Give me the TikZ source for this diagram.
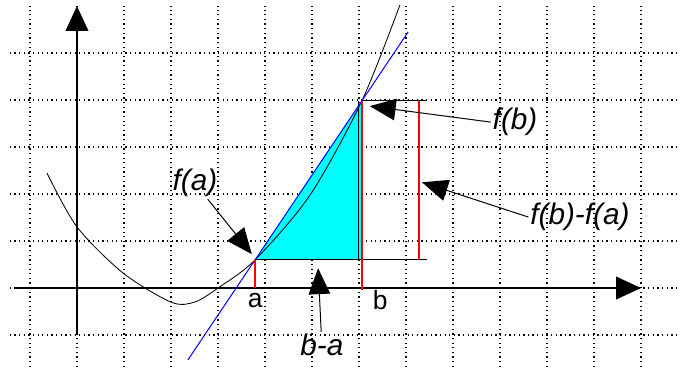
\documentclass[tikz,border=0pt]{standalone}
\usepackage{fontspec}
\setmainfont{Liberation Sans}
\usetikzlibrary{arrows.meta,calc}

\definecolor{aqua}{RGB}{0,255,255}
\tikzset{
    gridline/.style={dotted, line width=0.8pt},
    axisline/.style={line width=1.2pt, -{Triangle[length=5.3mm,width=4.8mm]}},
    callout/.style={line width=0.6pt, -{Triangle[length=5.5mm,width=4.6mm]}},
    lbl/.style={font=\fontsize{18}{20}\selectfont\itshape, inner sep=1pt},
    ticklbl/.style={font=\fontsize{16}{18}\selectfont, inner sep=1pt},
}

\begin{document}
\begin{tikzpicture}
    \useasboundingbox (-1.638,-1.681) rectangle (13.0,6.128);
    % Grid
    \foreach \x in {-1,...,12}
        \draw[gridline] (\x,-1.68) -- (\x,6.0);
    \foreach \y in {-1,...,5}
        \draw[gridline] (-1.43,\y) -- (12.83,\y);

    % Points on the curve
    \coordinate (A) at (3.79,0.6);
    \coordinate (B) at (6.06,3.98);
    \coordinate (R) at (7.45,0);

    % Shaded triangle
    \fill[aqua] (A) -- (B) -- (B |- A) -- cycle;
    \draw[line width=0.6pt] (A) -- (A -| R);
    \draw[line width=0.6pt] (B) -- (B -| R);
    \draw[line width=0.6pt] ($(B)+(-0.08,0)$) -- ($(B |- A)+(-0.08,0)$);

    % Axes
    \draw[axisline] (-1.32,0) -- (12,0);
    \draw[axisline] (0,-1.0) -- (0,6.0);

    % Curve and secant
    \draw[line width=0.5pt] plot[smooth] coordinates {(-0.64,2.45) (0,1.30) (0.98,0.32) (2.0,-0.30) (2.5,-0.30) (3.0,0) (3.79,0.6) (4.96,1.98) (6.06,3.98) (6.87,6.02)};
    \draw[blue, line width=0.6pt] ($(A)!-0.63!(B)$) -- ($(A)!1.435!(B)$);

    % Red lines
    \draw[red, line width=0.9pt] (A) -- (A |- 0,0);
    \draw[red, line width=0.9pt] (B) -- ($(B |- 0,0)+(0,-0.05)$);
    \draw[red, line width=0.9pt] (7.28,3.98) -- (7.28,0.6);

    % Labels on the axis
    \node[ticklbl] (la) at (3.79,-0.26) {a};
    \node[ticklbl] (lb) at (6.45,-0.26) {b};

    % Callouts
    \coordinate (fatip) at (3.72,0.72);
    \coordinate (batip) at (5.13,0.42);
    \coordinate (fbtip) at (6.23,3.87);
    \coordinate (difftip) at (7.34,2.25);
    \node[lbl] (fa) at (2.51,2.23) {f(a)};
    \node[lbl] (ba) at (5.21,-1.21) {b-a};
    \node[lbl] (fb) at (9.32,3.53) {f(b)};
    \node[lbl] (diff) at (10.7,1.51) {f(b)-f(a)};
    \draw[callout] (fa) -- (fatip);
    \draw[callout] (ba) -- (batip);
    \draw[callout] (fb.west) -- (fbtip);
    \draw[callout] (diff.west) -- (difftip);
\end{tikzpicture}
\end{document}
